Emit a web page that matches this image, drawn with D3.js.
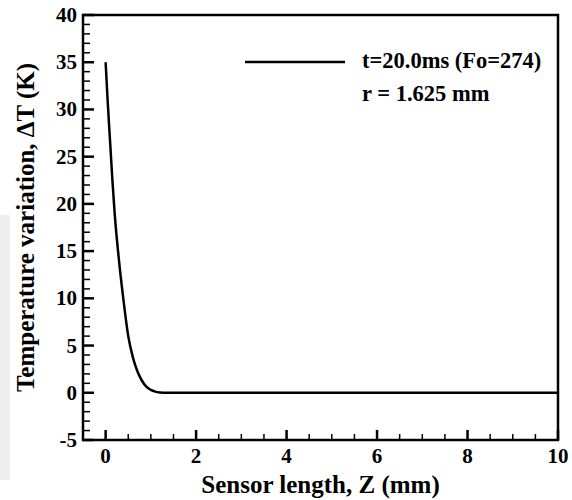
<!DOCTYPE html>
<html>
<head>
<meta charset="utf-8">
<script src="https://cdn.jsdelivr.net/npm/d3@7"></script>
<style>
  body { margin: 0; background: #fff; }
</style>
</head>
<body>
<div id="chart"></div>
<script>
// values
const zValues = [0, 0.05, 0.1, 0.15, 0.2, 0.3, 0.4, 0.5, 0.6, 0.7, 0.8, 0.9, 1.0, 1.1, 1.2, 1.35, 2, 3, 4, 5, 6, 7, 8, 9, 10];
const dTValues = [35, 30.5, 26.5, 22.5, 19.0, 13.8, 9.6, 6.0, 3.8, 2.3, 1.3, 0.65, 0.3, 0.12, 0.04, 0, 0, 0, 0, 0, 0, 0, 0, 0, 0];
const xTicks = [0, 2, 4, 6, 8, 10];
const yTicks = [-5, 0, 5, 10, 15, 20, 25, 30, 35, 40];
const legendLabel = 't=20.0ms (Fo=274)';
const noteLabel = 'r = 1.625 mm';

const width = 572, height = 500;
const margin = {left: 83, right: 14, top: 15, bottom: 60};
const font = '"Liberation Serif", "Times New Roman", "DejaVu Serif", serif';

const svg = d3.select('#chart').append('svg')
    .attr('width', width)
    .attr('height', height)
    .attr('font-family', font)
    .attr('font-weight', 'bold');

// faint grey scan artefact on the left edge
svg.append('rect')
    .attr('x', 0).attr('y', 215)
    .attr('width', 10).attr('height', 265)
    .attr('fill', '#eeeeee');

const x = d3.scaleLinear()
    .domain([-0.5, 10])
    .range([margin.left, width - margin.right]);
const y = d3.scaleLinear()
    .domain([-5, 40])
    .range([height - margin.bottom, margin.top]);

const x0 = x.range()[0], x1 = x.range()[1];
const yb = y.range()[0], yt = y.range()[1];

// minor ticks (inward)
const xMinor = d3.range(0, 10.01, 0.5).filter(d => !xTicks.includes(d));
const yMinor = d3.range(-5, 40.01, 1).filter(d => !yTicks.includes(d));

svg.append('g').selectAll('line').data(xMinor).join('line')
    .attr('x1', d => x(d)).attr('x2', d => x(d))
    .attr('y1', yb).attr('y2', yb - 6)
    .attr('stroke', '#000').attr('stroke-width', 1.5);
svg.append('g').selectAll('line').data(xTicks).join('line')
    .attr('x1', d => x(d)).attr('x2', d => x(d))
    .attr('y1', yb).attr('y2', yb - 10)
    .attr('stroke', '#000').attr('stroke-width', 2.5);

svg.append('g').selectAll('line').data(yMinor).join('line')
    .attr('x1', x0).attr('x2', x0 + 7)
    .attr('y1', d => y(d)).attr('y2', d => y(d))
    .attr('stroke', '#000').attr('stroke-width', 1.5);
svg.append('g').selectAll('line').data(yTicks).join('line')
    .attr('x1', x0).attr('x2', x0 + 11)
    .attr('y1', d => y(d)).attr('y2', d => y(d))
    .attr('stroke', '#000').attr('stroke-width', 2.5);

// frame
svg.append('rect')
    .attr('x', x0).attr('y', yt)
    .attr('width', x1 - x0).attr('height', yb - yt)
    .attr('fill', 'none')
    .attr('stroke', '#000')
    .attr('stroke-width', 2.5);

// tick labels
svg.append('g').selectAll('text').data(xTicks).join('text')
    .attr('x', d => x(d)).attr('y', yb + 23)
    .attr('text-anchor', 'middle')
    .attr('font-size', 21)
    .text(d => d);
svg.append('g').selectAll('text').data(yTicks).join('text')
    .attr('x', x0 - 6).attr('y', d => y(d) + 7)
    .attr('text-anchor', 'end')
    .attr('font-size', 21)
    .text(d => d);

// axis titles
svg.append('text')
    .attr('x', (x0 + x1) / 2).attr('y', 493)
    .attr('text-anchor', 'middle')
    .attr('font-size', 25)
    .text('Sensor length, Z (mm)');
svg.append('text')
    .attr('transform', `translate(34,${(yt + yb) / 2}) rotate(-90)`)
    .attr('text-anchor', 'middle')
    .attr('font-size', 25)
    .text('Temperature variation, \u0394T (K)');

// curve
const pts = zValues.map((z, i) => [z, dTValues[i]]);
svg.append('path')
    .datum(pts)
    .attr('d', d3.line().x(d => x(d[0])).y(d => y(d[1])).curve(d3.curveMonotoneX))
    .attr('fill', 'none')
    .attr('stroke', '#000')
    .attr('stroke-width', 2.5);

// legend
svg.append('line')
    .attr('x1', 245).attr('x2', 345)
    .attr('y1', 62).attr('y2', 62)
    .attr('stroke', '#000').attr('stroke-width', 2.5);
svg.append('text')
    .attr('x', 362).attr('y', 68)
    .attr('font-size', 22.5)
    .text(legendLabel);
svg.append('text')
    .attr('x', 362).attr('y', 101)
    .attr('font-size', 22.5)
    .text(noteLabel);
</script>
</body>
</html>
